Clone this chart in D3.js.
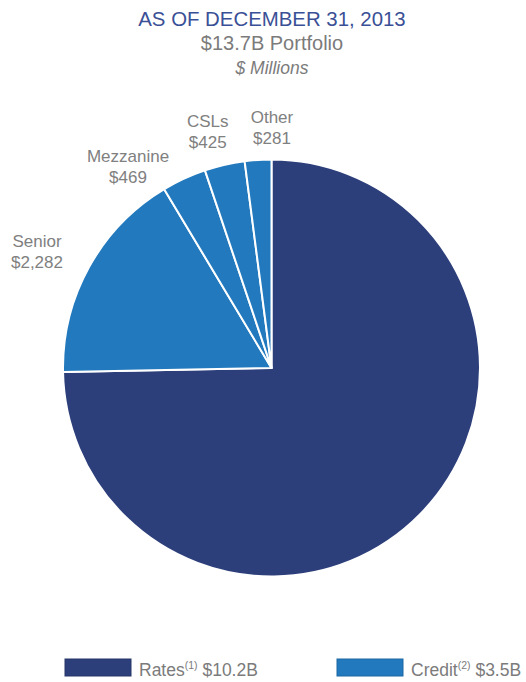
<!DOCTYPE html>
<html>
<head>
<meta charset="utf-8">
<script src="https://cdn.jsdelivr.net/npm/d3@7"></script>
<style>
  html, body { margin: 0; padding: 0; background: #fff; }
  svg { display: block; }
  text { font-family: "Liberation Sans", Arial, sans-serif; }
</style>
</head>
<body>
<svg id="chart" width="526" height="682"></svg>
<script>
// Portfolio composition, $ millions
const categories = ["Rates", "Senior", "Mezzanine", "CSLs", "Other"];
const values = [10200, 2282, 469, 425, 281];
const groups = ["Rates", "Credit", "Credit", "Credit", "Credit"];

// Legend entries
const legendGroups = ["Rates", "Credit"];
const legendNotes = ["(1)", "(2)"];
const legendTotals = ["$10.2B", "$3.5B"];

const titleText = "AS OF DECEMBER 31, 2013";
const subtitleText = "$13.7B Portfolio";
const unitText = "$ Millions";

// Layout
const W = 526, H = 682;
const cx = 271.5, cy = 368, R = 208.5;
const labelR = 248;
// hand-tuned nudges for the outside labels (px), keyed by category
const labelNudge = {
  Senior: [-17.5, 3],
  Mezzanine: [-39.5, 23],
  CSLs: [-8, 5],
  Other: [16.5, 6.5]
};

const color = d3.scaleOrdinal()
  .domain(legendGroups)
  .range(["#2c3f7b", "#2279bd"]);

const svg = d3.select("#chart");

// Titles
svg.append("text")
  .attr("x", 272).attr("y", 26)
  .attr("text-anchor", "middle")
  .attr("font-size", 20.4)
  .attr("fill", "#3a5096")
  .text(titleText);
svg.append("text")
  .attr("x", 272).attr("y", 50)
  .attr("text-anchor", "middle")
  .attr("font-size", 20)
  .attr("fill", "#7b7b7b")
  .text(subtitleText);
svg.append("text")
  .attr("x", 272).attr("y", 74)
  .attr("text-anchor", "middle")
  .attr("font-size", 17.5)
  .attr("font-style", "italic")
  .attr("fill", "#7b7b7b")
  .text(unitText);

// Pie
const rows = categories.map((c, i) => ({ name: c, value: values[i], group: groups[i] }));
const pie = d3.pie().sort(null).value(d => d.value).startAngle(0).endAngle(2 * Math.PI);
const arcs = pie(rows);
const arc = d3.arc().innerRadius(0).outerRadius(R);

const g = svg.append("g").attr("transform", `translate(${cx},${cy})`);
g.selectAll("path.slice")
  .data(arcs)
  .join("path")
  .attr("class", "slice")
  .attr("d", arc)
  .attr("fill", d => color(d.data.group))
  .attr("stroke", "#ffffff")
  .attr("stroke-width", 2)
  .attr("stroke-linejoin", "round");

// Outside labels for the credit slices
const fmt = d3.format("$,");
const labelArc = d3.arc().innerRadius(labelR).outerRadius(labelR);
const lab = g.selectAll("g.lab")
  .data(arcs.filter(d => d.data.group === "Credit"))
  .join("g")
  .attr("class", "lab")
  .attr("transform", d => {
    const [x, y] = labelArc.centroid(d);
    const n = labelNudge[d.data.name] || [0, 0];
    return `translate(${x + n[0]},${y + n[1]})`;
  });
lab.append("text")
  .attr("text-anchor", "middle")
  .attr("y", -4)
  .attr("font-size", 17)
  .attr("fill", "#808080")
  .text(d => d.data.name);
lab.append("text")
  .attr("text-anchor", "middle")
  .attr("y", 17)
  .attr("font-size", 17)
  .attr("fill", "#808080")
  .text(d => fmt(d.data.value));

// Legend
const legendX = d3.scalePoint().domain(legendGroups).range([65, 337]);
const lg = svg.selectAll("g.legend")
  .data(legendGroups)
  .join("g")
  .attr("class", "legend")
  .attr("transform", d => `translate(${legendX(d)},659)`);
lg.append("rect")
  .attr("width", 66).attr("height", 17)
  .attr("fill", d => color(d))
  .attr("stroke", d => d3.color(color(d)).darker(0.4))
  .attr("stroke-width", 1);
const lt = lg.append("text")
  .attr("x", 74).attr("y", 17)
  .attr("font-size", 17.5)
  .attr("fill", "#7b7b7b");
lt.append("tspan").text(d => d);
lt.append("tspan")
  .attr("font-size", 10.5)
  .attr("dy", -7)
  .text((d, i) => legendNotes[i]);
lt.append("tspan")
  .attr("dy", 7)
  .text((d, i) => " " + legendTotals[i]);
</script>
</body>
</html>
